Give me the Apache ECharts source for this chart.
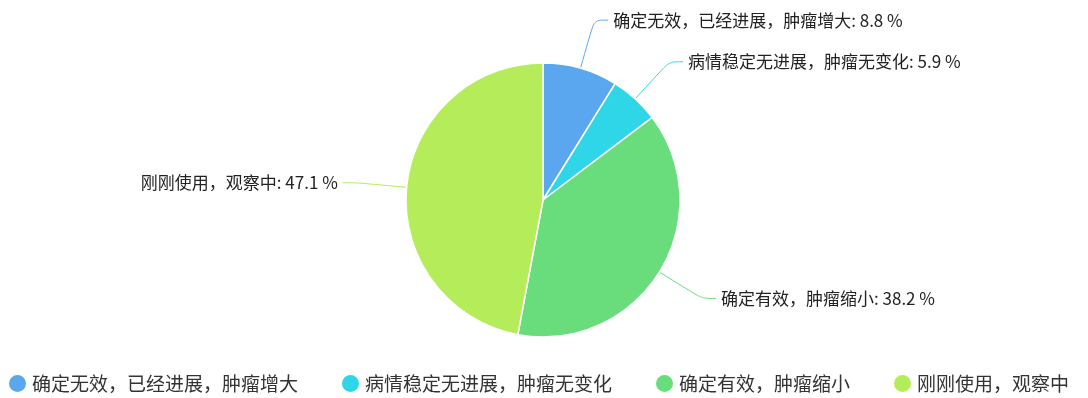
<!DOCTYPE html>
<html>
<head>
<meta charset="utf-8">
<script src="https://cdn.jsdelivr.net/npm/echarts@6/dist/echarts.min.js"></script>
<style>
  html, body { margin: 0; padding: 0; background: #fff; }
  #pie { width: 1088px; height: 398px; }
</style>
</head>
<body>
<div id="pie"></div>
<script>
  // patient counts per outcome (percent shown by ECharts)
  const categories = [
    '确定无效，已经进展，肿瘤增大',
    '病情稳定无进展，肿瘤无变化',
    '确定有效，肿瘤缩小',
    '刚刚使用，观察中'
  ]
  const counts = [3, 2, 13, 16]
  const colors = ['#5aa7ef', '#2fd6e8', '#69dd7c', '#b4ec5a']

  const pieChart = echarts.init(document.getElementById('pie'))
  const fontFamily = '"Noto Sans CJK SC", "Noto Sans", sans-serif'

  let pieOption = {
    color: colors,
    textStyle: { fontFamily: fontFamily },
    legend: {
      top: 373,
      left: 7,
      padding: 0,
      icon: 'circle',
      itemWidth: 19,
      itemHeight: 19,
      itemGap: 42,
      textStyle: {
        fontSize: 19,
        color: '#333',
        fontFamily: fontFamily
      },
      data: categories
    },
    series: [{
      type: 'pie',
      radius: 137,
      center: [543, 200],
      startAngle: 90,
      percentPrecision: 1,
      data: categories.map((name, i) => ({ name: name, value: counts[i] })),
      itemStyle: {
        borderColor: '#fff',
        borderWidth: 1.5
      },
      label: {
        formatter: '{b}: {d} %',
        fontSize: 17,
        color: '#222',
        fontFamily: fontFamily
      },
      labelLine: {
        smooth: true,
        length: 50,
        length2: 14
      },
      emphasis: { scale: false }
    }]
  }
  pieChart.setOption(pieOption)
</script>
</body>
</html>
